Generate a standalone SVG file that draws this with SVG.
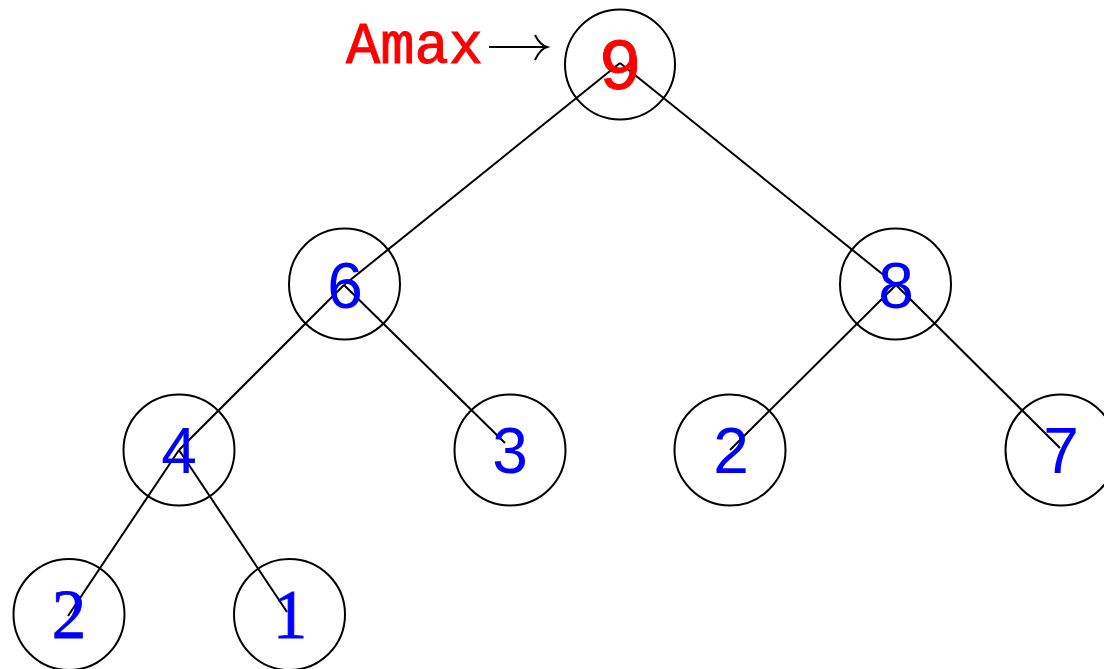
<svg xmlns="http://www.w3.org/2000/svg" width="1104" height="669" viewBox="0 0 1104 669">
  <style>
    .node circle { fill: none; stroke: #000; stroke-width: 2; }
    .num { font-family: "Liberation Sans", Arial, sans-serif; font-size: 64px; fill: #0000ff; text-anchor: middle; }
    .num.serif { font-family: "Liberation Serif", "Times New Roman", serif; font-size: 69px; stroke: #0000ff; stroke-width: 0.8; }
    .tt { font-family: "Liberation Mono", "Courier New", monospace; fill: #ff0000; stroke: #ff0000; stroke-width: 1; }
    .edges line, .edges path { stroke: #000; stroke-width: 2; fill: none; }
  </style>

  <!-- tree edges -->
  <g class="edges">
    <line x1="620" y1="63" x2="344" y2="285"/>
    <line x1="620" y1="63" x2="896" y2="285"/>
    <line x1="344" y1="285" x2="179" y2="450"/>
    <line x1="344" y1="285" x2="505" y2="443"/>
    <line x1="896" y1="285" x2="730" y2="450"/>
    <line x1="896" y1="285" x2="1060" y2="448"/>
    <line x1="179" y1="450" x2="68" y2="616"/>
    <line x1="179" y1="450" x2="287" y2="612"/>
    <!-- pointer arrow -->
    <path d="M489,47 H547"/>
    <path d="M535,35 Q540,45 547,47 Q540,49 535,60"/>
  </g>

  <text class="tt" x="346" y="63" font-size="59" textLength="137" lengthAdjust="spacingAndGlyphs">Amax</text>

  <g id="n9" class="node">
    <circle cx="620" cy="64.5" r="55"/>
    <text class="tt" x="620" y="89" font-size="72" text-anchor="middle">9</text>
  </g>
  <g id="n6" class="node">
    <circle cx="344.5" cy="284" r="55.5"/>
    <text class="num" x="345" y="308">6</text>
  </g>
  <g id="n8" class="node">
    <circle cx="895.5" cy="284" r="55.5"/>
    <text class="num" x="896" y="308">8</text>
  </g>
  <g id="n4" class="node">
    <circle cx="179" cy="450" r="55.5"/>
    <text class="num" x="179" y="473">4</text>
  </g>
  <g id="n3" class="node">
    <circle cx="510" cy="450" r="55.5"/>
    <text class="num" x="510" y="473">3</text>
  </g>
  <g id="n2a" class="node">
    <circle cx="730" cy="450" r="55.5"/>
    <text class="num" x="731" y="473">2</text>
  </g>
  <g id="n7" class="node">
    <circle cx="1061" cy="450" r="55.5"/>
    <text class="num" x="1061" y="473">7</text>
  </g>
  <g id="n2b" class="node">
    <circle cx="69" cy="614.5" r="55.5"/>
    <text class="num serif" x="69" y="638">2</text>
  </g>
  <g id="n1" class="node">
    <circle cx="289.5" cy="614.5" r="55.5"/>
    <text class="num serif" x="290" y="638">1</text>
  </g>
</svg>
